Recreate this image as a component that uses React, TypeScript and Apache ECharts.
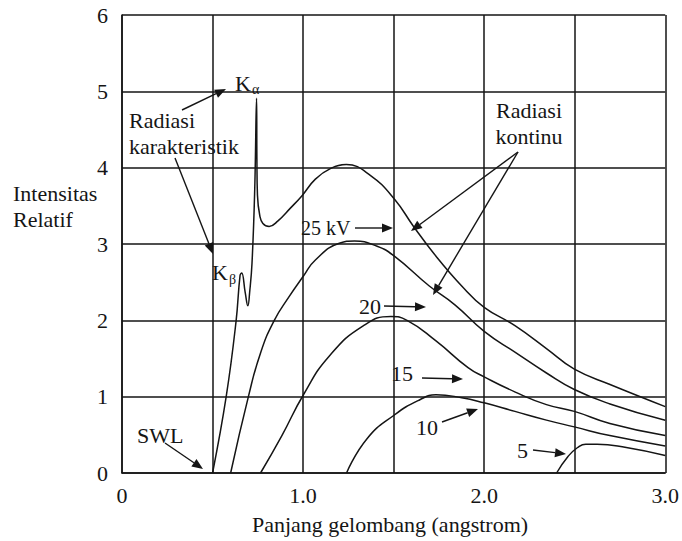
import React, { useEffect, useRef } from 'react';
import * as echarts from 'echarts';

// Tick labels
const xTickLabels: Record<string, string> = { '0': '0', '1': '1.0', '2': '2.0', '3': '3.0' };
const yTickValues = [0, 1, 2, 3, 4, 5, 6];

// Curves: [wavelength (Å), relative intensity]
const kv25: [number, number][] = [
  [0.5, 0], [0.576, 1.01], [0.63, 1.99], [0.652, 2.59], [0.661, 2.62], [0.68, 2.37],
  [0.695, 2.19], [0.705, 2.37], [0.718, 2.75], [0.733, 3.72], [0.743, 4.91],
  [0.745, 4.11], [0.748, 3.64], [0.761, 3.37], [0.778, 3.27], [0.8125, 3.23],
  [0.86, 3.3], [0.93, 3.47], [0.993, 3.63], [1.068, 3.85], [1.153, 3.99], [1.239, 4.04],
  [1.371, 3.9], [1.504, 3.59], [1.61, 3.23], [1.734, 2.84], [1.876, 2.45],
  [2.0, 2.17], [2.17, 1.93], [2.344, 1.63], [2.498, 1.36], [2.695, 1.16], [3.0, 0.87],
];
const kv20: [number, number][] = [
  [0.6, 0], [0.699, 1.01], [0.766, 1.58], [0.841, 2.0], [0.92, 2.3], [1.002, 2.58],
  [1.068, 2.79], [1.2, 3.01], [1.284, 3.04], [1.409, 2.97], [1.504, 2.84],
  [1.697, 2.45], [1.84, 2.2], [2.0, 1.855], [2.172, 1.58], [2.344, 1.31],
  [2.498, 1.094], [2.695, 0.905], [3.0, 0.69],
];
const kv15: [number, number][] = [
  [0.765, 0], [0.883, 0.49], [1.002, 1.025], [1.144, 1.53], [1.334, 1.93],
  [1.485, 2.05], [1.574, 2.0], [1.734, 1.73], [1.911, 1.38], [2.0, 1.26],
  [2.172, 1.06], [2.344, 0.896], [2.498, 0.807], [2.694, 0.649], [3.0, 0.49],
];
const kv10: [number, number][] = [
  [1.24, 0], [1.352, 0.446], [1.504, 0.76], [1.645, 0.96], [1.734, 1.025],
  [1.876, 0.986], [2.0, 0.919], [2.17, 0.807], [2.344, 0.693], [2.498, 0.604],
  [2.694, 0.49], [3.0, 0.355],
];
const kv5: [number, number][] = [
  [2.4, 0], [2.464, 0.22], [2.516, 0.334], [2.561, 0.378], [2.624, 0.378],
  [2.785, 0.334], [3.0, 0.23],
];

const FONT = '"Liberation Serif", "Times New Roman", serif';
const INK = '#151515';

function txt(text: string, x: number, y: number, size = 22, align = 'left', lh = 26) {
  return {
    type: 'text',
    z: 100,
    style: {
      text, x, y,
      font: `${size}px ${FONT}`,
      fontSize: size,
      fontFamily: FONT,
      fill: INK,
      align, textAlign: align,
      verticalAlign: 'middle', textVerticalAlign: 'middle',
      lineHeight: lh,
    },
  };
}

function arrow(x1: number, y1: number, x2: number, y2: number) {
  const dx = x2 - x1, dy = y2 - y1;
  const len = Math.sqrt(dx * dx + dy * dy);
  const ux = dx / len, uy = dy / len;
  const hl = 11, hw = 4.5;
  const bx = x2 - ux * hl, by = y2 - uy * hl;
  const px = -uy, py = ux;
  return [
    { type: 'line', z: 100, shape: { x1, y1, x2: bx, y2: by }, style: { stroke: INK, lineWidth: 1.4 } },
    {
      type: 'polygon', z: 100,
      shape: { points: [[x2, y2], [bx + px * hw, by + py * hw], [bx - px * hw, by - py * hw]] },
      style: { fill: INK },
    },
  ];
}

function lineSeries(name: string, data: [number, number][], smooth: number) {
  return {
    name, type: 'line', data, symbol: 'none', smooth,
    lineStyle: { color: INK, width: 1.5 },
    z: 5,
  };
}

export default function App() {
  const ref = useRef<HTMLDivElement>(null);
  useEffect(() => {
    if (!ref.current) return;
    const chart = echarts.init(ref.current, undefined, { renderer: 'svg' });
    chart.setOption({
      animation: false,
      backgroundColor: '#ffffff',
      grid: { left: 122, top: 15, width: 548, height: 458, show: false },
      xAxis: {
        type: 'value', min: 0, max: 3, interval: 0.5,
        axisLine: { show: true, lineStyle: { color: INK, width: 1.5 } },
        axisTick: { show: false },
        splitLine: { show: true, lineStyle: { color: INK, width: 1.5 } },
        axisLabel: {
          margin: 13, fontSize: 22, lineHeight: 18, fontFamily: FONT, color: INK,
          formatter: (v: number) => xTickLabels[String(v)] ?? '',
        },
      },
      yAxis: {
        type: 'value', min: 0, max: 6, interval: 1,
        axisLine: { show: true, lineStyle: { color: INK, width: 1.5 } },
        axisTick: { show: false },
        splitLine: { show: true, lineStyle: { color: INK, width: 1.5 } },
        axisLabel: {
          margin: 14, fontSize: 22, fontFamily: FONT, color: INK,
          formatter: (v: number) => (yTickValues.includes(v) ? String(v) : ''),
        },
      },
      series: [
        lineSeries('25 kV', kv25, 0.45),
        lineSeries('20 kV', kv20, 0.5),
        lineSeries('15 kV', kv15, 0.5),
        lineSeries('10 kV', kv10, 0.5),
        lineSeries('5 kV', kv5, 0.5),
      ],
      graphic: [
        txt('Intensitas\nRelatif', 13, 206),
        txt('Panjang gelombang (angstrom)', 390, 524, 22, 'center', 20),
        txt('Radiasi\nkarakteristik', 129, 133),
        txt('Radiasi\nkontinu', 529, 123.5, 22, 'center'),
        txt('K', 235, 83),
        txt('α', 252, 89, 14),
        txt('K', 212, 272),
        txt('β', 229, 279, 14),
        txt('SWL', 137, 435),
        txt('25 kV', 301, 228, 20),
        txt('20', 359, 306),
        txt('15', 391, 373),
        txt('10', 416, 427),
        txt('5', 517, 450),
        ...arrow(182, 110, 226, 89),
        ...arrow(175, 158, 213, 254),
        ...arrow(165, 443, 203, 469),
        ...arrow(355, 228, 393, 228),
        ...arrow(518, 152, 411, 231),
        ...arrow(518, 152, 433, 295),
        ...arrow(384, 306, 426, 307),
        ...arrow(422, 378, 463, 379),
        ...arrow(442, 422, 478, 409),
        ...arrow(533, 450, 566, 454),
      ],
    });
    return () => chart.dispose();
  }, []);
  return <div ref={ref} style={{ width: 682, height: 541, position: 'absolute', left: 0, top: 0 }} />;
}
